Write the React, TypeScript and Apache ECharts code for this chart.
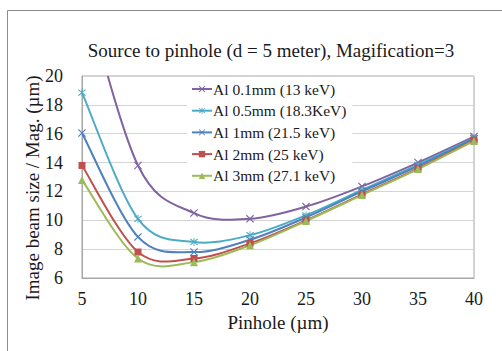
import React, { useEffect, useRef } from "react";
import * as echarts from "echarts";

// Pinhole diameter (µm)
const pinhole = [5, 10, 15, 20, 25, 30, 35, 40];

// Image beam size / magnification (µm) for each Al filter
const al01 = [26.4, 13.8, 10.5, 10.1, 10.95, 12.35, 14.0, 15.8];
const al05 = [18.85, 10.1, 8.5, 8.97, 10.35, 12.1, 13.85, 15.7];
const al1 = [16.05, 8.85, 7.8, 8.65, 10.2, 12.0, 13.75, 15.65];
const al2 = [13.8, 7.8, 7.35, 8.4, 10.0, 11.8, 13.6, 15.55];
const al3 = [12.8, 7.35, 7.1, 8.27, 9.95, 11.75, 13.55, 15.5];

const seriesNames = [
  "Al 0.1mm (13 keV)",
  "Al 0.5mm (18.3KeV)",
  "Al 1mm (21.5 keV)",
  "Al 2mm (25 keV)",
  "Al 3mm (27.1 keV)",
];

const yTicks = { min: 6, max: 20, step: 2 };
const xTicks = { min: 5, max: 40, step: 5 };

const crossPath =
  "path://M0,1 L1,0 L5,4 L9,0 L10,1 L6,5 L10,9 L9,10 L5,6 L1,10 L0,9 L4,5 Z";
const starPath =
  "path://M0,1 L1,0 L5,4 L9,0 L10,1 L6,5 L10,9 L9,10 L5,6 L1,10 L0,9 L4,5 Z M4.4,-1 L5.6,-1 L5.6,11 L4.4,11 Z";

const FONT = "Liberation Serif";
const INK = "#1a1a1a";

export default function App() {
  const ref = useRef<HTMLDivElement>(null);

  useEffect(() => {
    if (!ref.current) return;
    const chart = echarts.init(ref.current, null, { renderer: "svg" });

    // Markers (and legend entries) for one data set; the connecting curve is drawn separately.
    const markers = (
      name: string,
      values: number[],
      color: string,
      symbol: string,
      symbolSize: number
    ) => ({
      name,
      type: "line",
      data: pinhole.map((x, i) => [x, values[i]]),
      clip: true,
      symbol,
      symbolSize,
      showAllSymbol: true,
      lineStyle: { color, width: 2, opacity: 0 },
      itemStyle: { color },
      emphasis: { disabled: true },
      z: 3,
    });

    // Smooth Catmull-Rom style curve through the points, one bezier per segment.
    const curve = (name: string, values: number[], color: string) => ({
      name: name + " curve",
      type: "custom",
      data: pinhole.slice(0, -1).map((x, i) => [x, values[i]]),
      z: 2,
      silent: true,
      renderItem: (params: any, api: any) => {
        const i = params.dataIndex;
        const n = pinhole.length;
        const pt = (k: number) => {
          const kk = Math.max(0, Math.min(n - 1, k));
          return api.coord([pinhole[kk], values[kk]]);
        };
        const p0 = pt(i - 1);
        const p1 = pt(i);
        const p2 = pt(i + 1);
        const p3 = pt(i + 2);
        const c1 = [p1[0] + (p2[0] - p0[0]) / 6, p1[1] + (p2[1] - p0[1]) / 6];
        const c2 = [p2[0] - (p3[0] - p1[0]) / 6, p2[1] - (p3[1] - p1[1]) / 6];
        const cs = params.coordSys;
        return {
          type: "bezierCurve",
          shape: {
            x1: p1[0],
            y1: p1[1],
            cpx1: c1[0],
            cpy1: c1[1],
            cpx2: c2[0],
            cpy2: c2[1],
            x2: p2[0],
            y2: p2[1],
          },
          style: { stroke: color, lineWidth: 2, fill: "none" },
          clipPath: {
            type: "rect",
            shape: { x: cs.x, y: cs.y, width: cs.width, height: cs.height },
          },
        };
      },
    });

    const colors = ["#8064A2", "#4BACC6", "#4F81BD", "#C0504D", "#9BBB59"];
    const sets = [al01, al05, al1, al2, al3];
    const symbols = [crossPath, starPath, crossPath, "rect", "triangle"];
    const sizes = [8, 8, 8, 7, 8];

    chart.setOption({
      animation: false,
      backgroundColor: "#ffffff",
      title: {
        text: "Source to pinhole (d = 5 meter), Magification=3",
        left: 266,
        textAlign: "center",
        top: 36,
        textStyle: {
          fontFamily: FONT,
          fontSize: 19,
          fontWeight: "normal",
          color: INK,
        },
      },
      grid: {
        left: 82,
        right: 28,
        top: 76,
        bottom: 73,
        show: true,
        borderColor: "#a6a6a6",
        borderWidth: 1,
        backgroundColor: "transparent",
      },
      legend: {
        orient: "vertical",
        left: 187,
        top: 78,
        padding: [2, 6, 2, 4],
        itemGap: 3.7,
        itemWidth: 20,
        itemHeight: 8,
        backgroundColor: "#ffffff",
        data: seriesNames,
        lineStyle: { opacity: 1, width: 2 },
        textStyle: {
          fontFamily: FONT,
          fontSize: 15.5,
          color: INK,
          lineHeight: 18,
          padding: [0, 0, 0, -4],
        },
      },
      xAxis: {
        type: "value",
        min: xTicks.min,
        max: xTicks.max,
        interval: xTicks.step,
        name: "Pinhole (µm)",
        nameLocation: "middle",
        nameGap: 35,
        nameTextStyle: { fontFamily: FONT, fontSize: 19, color: INK },
        axisLine: { show: true, lineStyle: { color: "#a6a6a6" } },
        axisTick: { show: false },
        splitLine: { show: false },
        axisLabel: {
          fontFamily: FONT,
          fontSize: 18,
          color: INK,
          margin: 12,
        },
      },
      yAxis: {
        type: "value",
        min: yTicks.min,
        max: yTicks.max,
        interval: yTicks.step,
        axisLine: { show: true, lineStyle: { color: "#a6a6a6" } },
        axisTick: { show: false },
        splitLine: { show: true, lineStyle: { color: "#d4d4d4", width: 1 } },
        axisLabel: {
          fontFamily: FONT,
          fontSize: 18,
          color: INK,
          margin: 19,
        },
      },
      graphic: [
        {
          type: "rect",
          shape: { x: 7.5, y: 10.5, width: 700, height: 500 },
          style: { fill: "none", stroke: "#8c8c8c", lineWidth: 1 },
          silent: true,
          z: -10,
        },
        {
          type: "text",
          x: 32,
          y: 188,
          rotation: Math.PI / 2,
          style: {
            text: "Image beam size / Mag. (µm)",
            fontFamily: FONT,
            fontSize: 19,
            fill: INK,
            align: "center",
            verticalAlign: "middle",
          },
        },
      ],
      series: [
        ...sets.map((v, k) => curve(seriesNames[k], v, colors[k])),
        ...sets.map((v, k) =>
          markers(seriesNames[k], v, colors[k], symbols[k], sizes[k])
        ),
      ],
    });

    return () => chart.dispose();
  }, []);

  return (
    <div
      ref={ref}
      style={{ position: "fixed", left: 0, top: 0, width: 502, height: 351 }}
    />
  );
}
